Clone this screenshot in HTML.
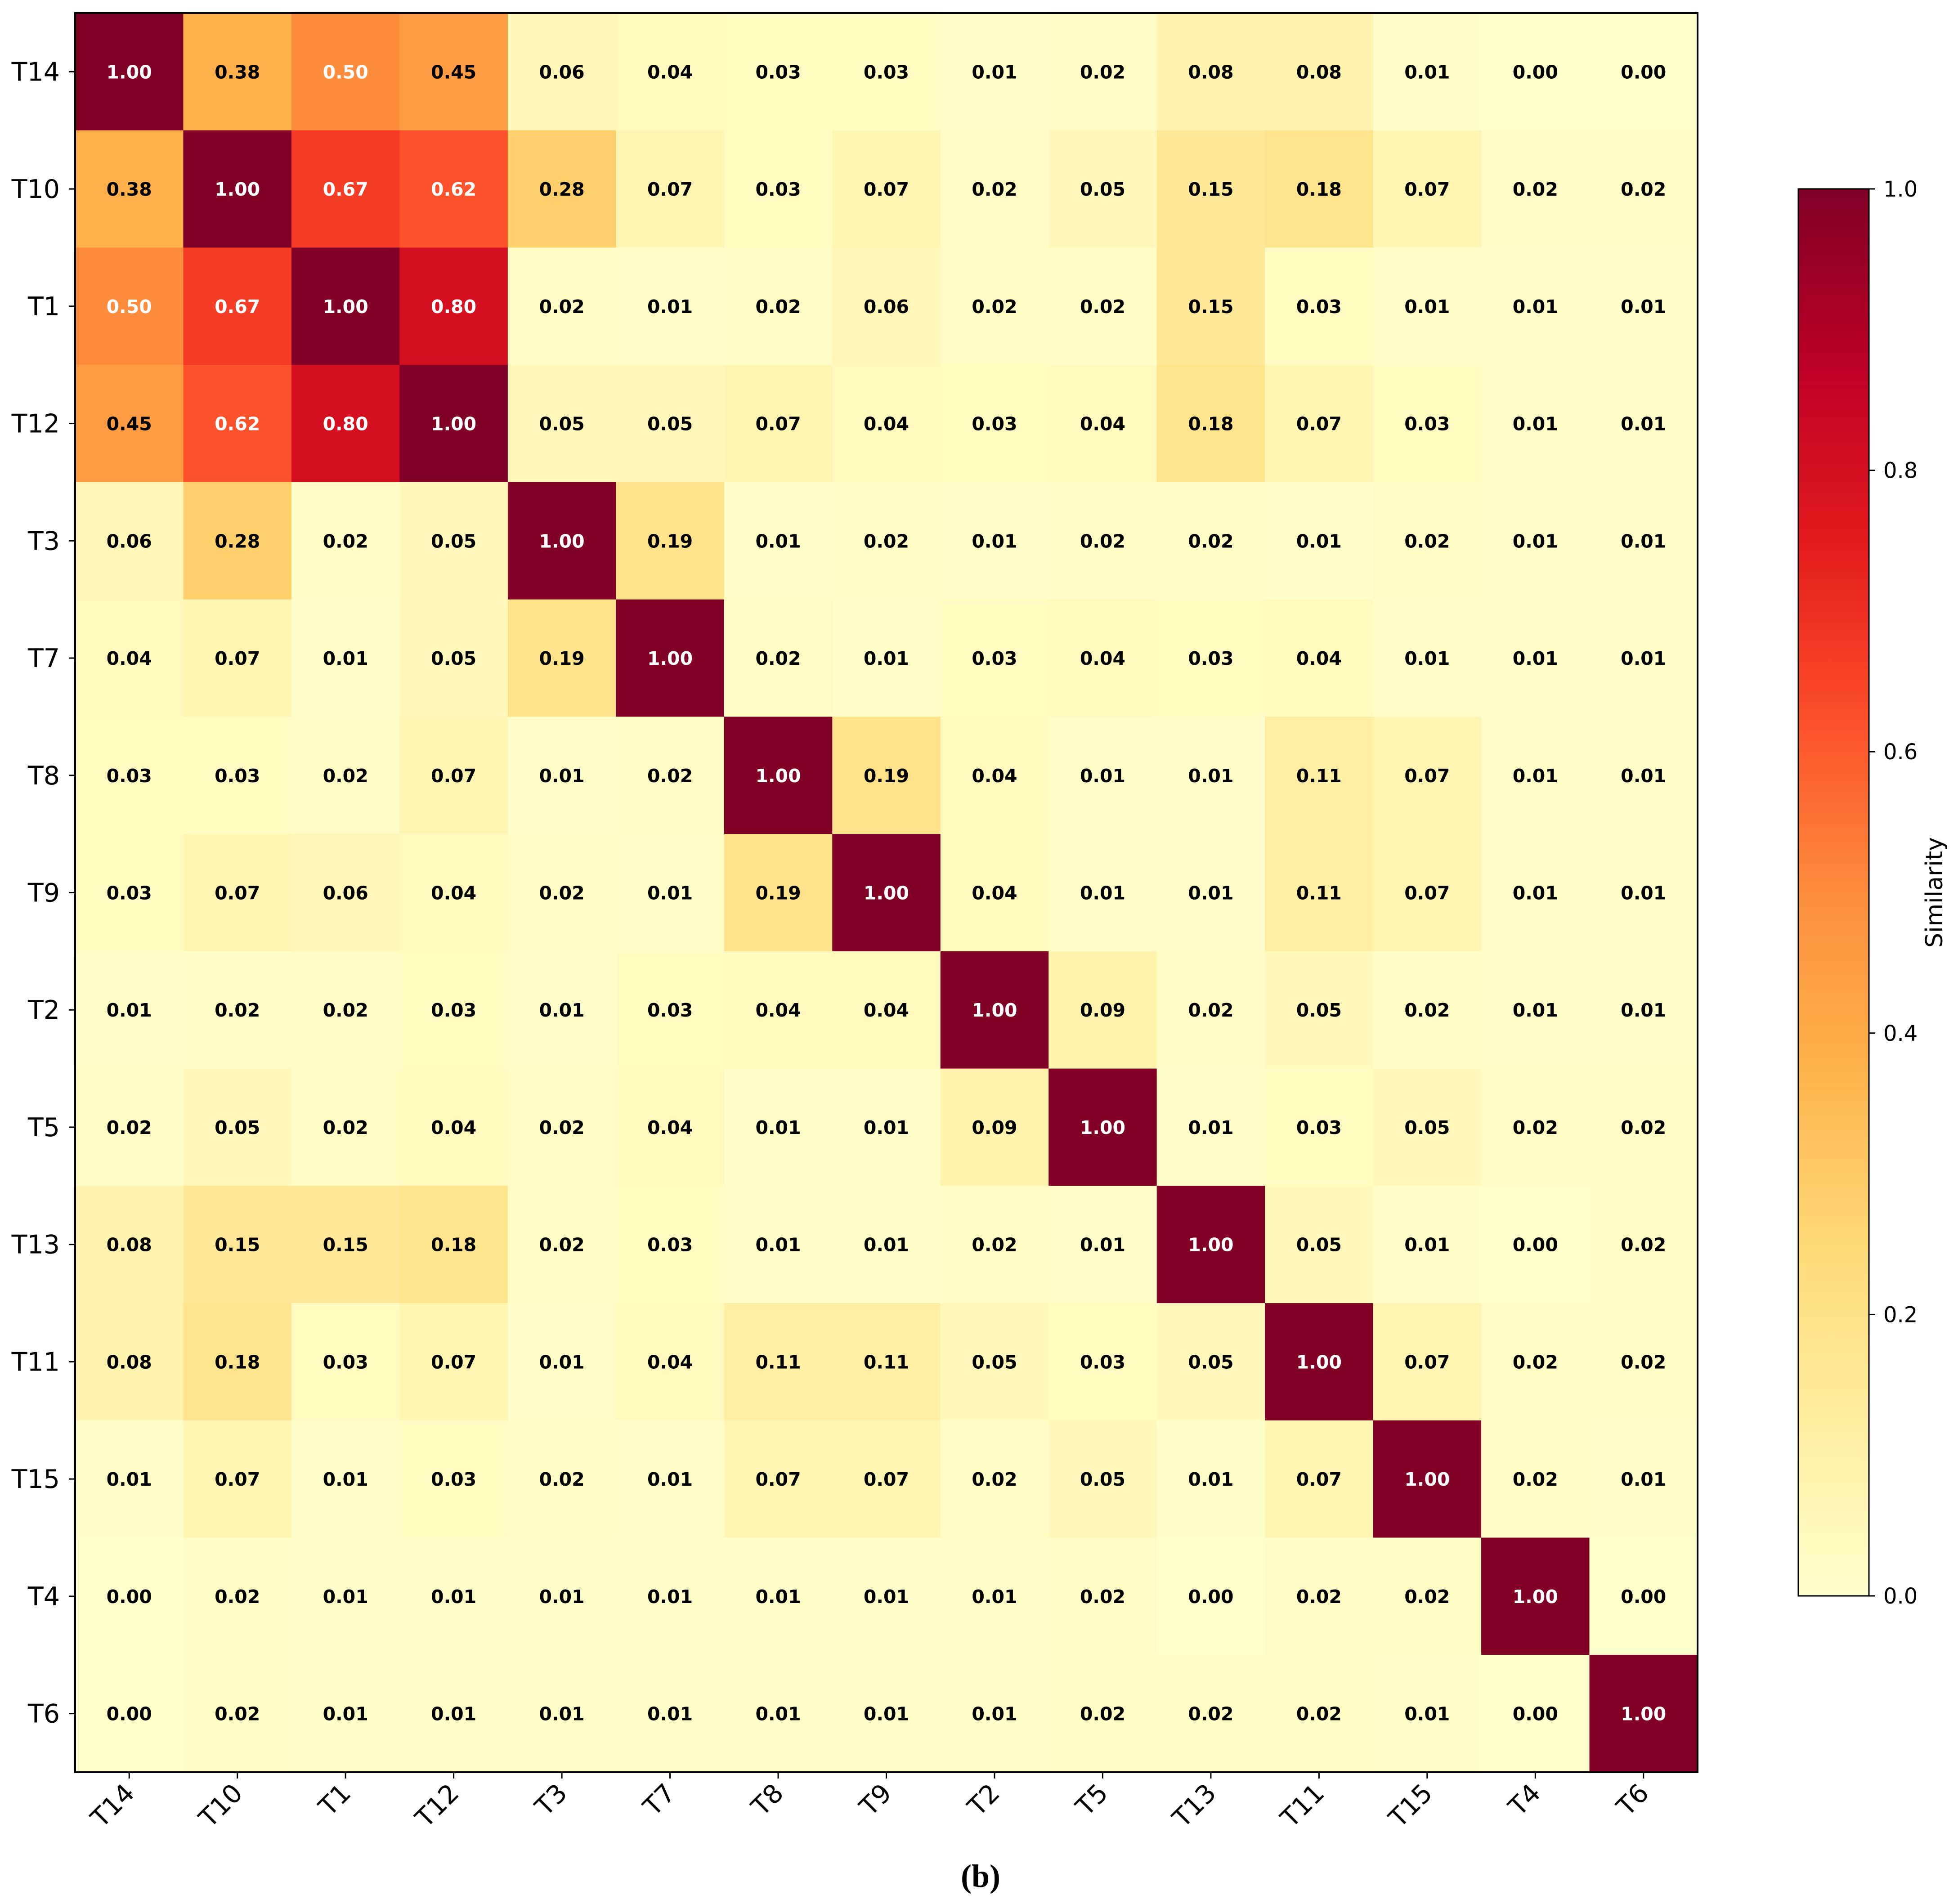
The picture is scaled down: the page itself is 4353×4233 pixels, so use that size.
<!DOCTYPE html>
<html><head><meta charset="utf-8"><style>
html,body{margin:0;padding:0;background:#fff;}
svg{display:block;}
text{font-family:"DejaVu Sans","Liberation Sans",sans-serif;}
</style></head><body>
<svg id="chart" width="4353" height="4233" viewBox="0 0 4353 4233" xmlns="http://www.w3.org/2000/svg">
<defs>
<linearGradient id="cbgrad" x1="0" y1="1" x2="0" y2="0">
<stop offset="0" stop-color="#ffffcc"/><stop offset="0.125" stop-color="#ffeda0"/><stop offset="0.25" stop-color="#fed976"/><stop offset="0.375" stop-color="#feb24c"/><stop offset="0.5" stop-color="#fd8d3c"/><stop offset="0.625" stop-color="#fc4e2a"/><stop offset="0.75" stop-color="#e31a1c"/><stop offset="0.875" stop-color="#bd0026"/><stop offset="1" stop-color="#800026"/>
</linearGradient>
</defs>
<g id="cells"></g>
<g id="axes"></g>
<g id="cbar"></g>
<text x="2180" y="4195" text-anchor="middle" font-size="72" font-weight="bold" style="font-family:'Liberation Serif',serif">(b)</text>
</svg>
<script>
const labels = ["T14","T10","T1","T12","T3","T7","T8","T9","T2","T5","T13","T11","T15","T4","T6"];
const row0 = [1.00,0.38,0.50,0.45,0.06,0.04,0.03,0.03,0.01,0.02,0.08,0.08,0.01,0.00,0.00];
const row1 = [0.38,1.00,0.67,0.62,0.28,0.07,0.03,0.07,0.02,0.05,0.15,0.18,0.07,0.02,0.02];
const row2 = [0.50,0.67,1.00,0.80,0.02,0.01,0.02,0.06,0.02,0.02,0.15,0.03,0.01,0.01,0.01];
const row3 = [0.45,0.62,0.80,1.00,0.05,0.05,0.07,0.04,0.03,0.04,0.18,0.07,0.03,0.01,0.01];
const row4 = [0.06,0.28,0.02,0.05,1.00,0.19,0.01,0.02,0.01,0.02,0.02,0.01,0.02,0.01,0.01];
const row5 = [0.04,0.07,0.01,0.05,0.19,1.00,0.02,0.01,0.03,0.04,0.03,0.04,0.01,0.01,0.01];
const row6 = [0.03,0.03,0.02,0.07,0.01,0.02,1.00,0.19,0.04,0.01,0.01,0.11,0.07,0.01,0.01];
const row7 = [0.03,0.07,0.06,0.04,0.02,0.01,0.19,1.00,0.04,0.01,0.01,0.11,0.07,0.01,0.01];
const row8 = [0.01,0.02,0.02,0.03,0.01,0.03,0.04,0.04,1.00,0.09,0.02,0.05,0.02,0.01,0.01];
const row9 = [0.02,0.05,0.02,0.04,0.02,0.04,0.01,0.01,0.09,1.00,0.01,0.03,0.05,0.02,0.02];
const row10 = [0.08,0.15,0.15,0.18,0.02,0.03,0.01,0.01,0.02,0.01,1.00,0.05,0.01,0.00,0.02];
const row11 = [0.08,0.18,0.03,0.07,0.01,0.04,0.11,0.11,0.05,0.03,0.05,1.00,0.07,0.02,0.02];
const row12 = [0.01,0.07,0.01,0.03,0.02,0.01,0.07,0.07,0.02,0.05,0.01,0.07,1.00,0.02,0.01];
const row13 = [0.00,0.02,0.01,0.01,0.01,0.01,0.01,0.01,0.01,0.02,0.00,0.02,0.02,1.00,0.00];
const row14 = [0.00,0.02,0.01,0.01,0.01,0.01,0.01,0.01,0.01,0.02,0.02,0.02,0.01,0.00,1.00];
const matrix = [row0,row1,row2,row3,row4,row5,row6,row7,row8,row9,row10,row11,row12,row13,row14];
const cbTicks = [0.0,0.2,0.4,0.6,0.8,1.0];

const NS="http://www.w3.org/2000/svg";
const L=167,T=29,R=3774,B=3940;
const n=labels.length;
const cw=(R-L)/n, ch=(B-T)/n;
const xPos=i=>L+i*cw, yPos=j=>T+j*ch;
const CB={x:3998,y:420,w:157,h:3128};
const cbY=v=>CB.y+CB.h*(1-v);
const stops=["#ffffcc","#ffeda0","#fed976","#feb24c","#fd8d3c","#fc4e2a","#e31a1c","#bd0026","#800026"];
function hex(h){return [1,3,5].map(k=>parseInt(h.substr(k,2),16));}
function color(v){v=Math.max(0,Math.min(1,v));const p=v*8;const i=Math.min(7,Math.floor(p));const f=p-i;const a=hex(stops[i]),b=hex(stops[i+1]);return "rgb("+a.map((c,k)=>Math.round(c+(b[k]-c)*f)).join(",")+")";}
function mk(tag,attrs,parent){const e=document.createElementNS(NS,tag);for(const k in attrs)e.setAttribute(k,attrs[k]);parent.appendChild(e);return e;}
const cells=document.getElementById('cells'),axes=document.getElementById('axes'),cbar=document.getElementById('cbar');
matrix.forEach((row,j)=>row.forEach((v,i)=>{
  const r=mk('rect',{x:xPos(i),y:yPos(j),width:cw+0.6,height:ch+0.6,fill:color(v)},cells);
  
  
  const t=mk('text',{x:xPos(i)+cw/2,y:yPos(j)+ch/2+15,'text-anchor':'middle','font-size':41,'font-weight':'bold',fill:v>=0.5?'#fff':'#000'},cells);
  t.textContent=v.toFixed(2);
  
  
}));
const frame=mk('rect',{x:L,y:T,width:R-L,height:B-T,fill:'none',stroke:'#000','stroke-width':4},axes);


labels.forEach((lab,k)=>{
  const yc=yPos(k)+ch/2;
  mk('line',{x1:L,x2:L-14,y1:yc,y2:yc,stroke:'#000','stroke-width':3},axes);
  const ty=mk('text',{x:133,y:yc+20,'text-anchor':'end','font-size':57},axes);
  ty.textContent=lab;
  
  
  const xc=xPos(k)+cw/2;
  mk('line',{x1:xc,x2:xc,y1:B,y2:B+14,stroke:'#000','stroke-width':3},axes);
  const tx=mk('text',{x:xc+15,y:B+50,'text-anchor':'end','font-size':57,transform:'rotate(-45 '+(xc+15)+' '+(B+50)+')'},axes);
  tx.textContent=lab;
  
  
});
const cbr=mk('rect',{x:CB.x,y:CB.y,width:CB.w,height:CB.h,fill:'url(#cbgrad)',stroke:'#000','stroke-width':3},cbar);


cbTicks.forEach(v=>{
  const y=cbY(v);
  mk('line',{x1:CB.x+CB.w,x2:CB.x+CB.w+14,y1:y,y2:y,stroke:'#000','stroke-width':3},cbar);
  const t=mk('text',{x:CB.x+CB.w+32,y:y+17,'font-size':48},cbar);
  t.textContent=v.toFixed(1);
  
  
});
const cl=mk('text',{x:4318,y:cbY(0.5),'text-anchor':'middle','font-size':52,transform:'rotate(-90 4318 '+cbY(0.5)+')'},cbar);
cl.textContent='Similarity';


</script>
</body></html>
